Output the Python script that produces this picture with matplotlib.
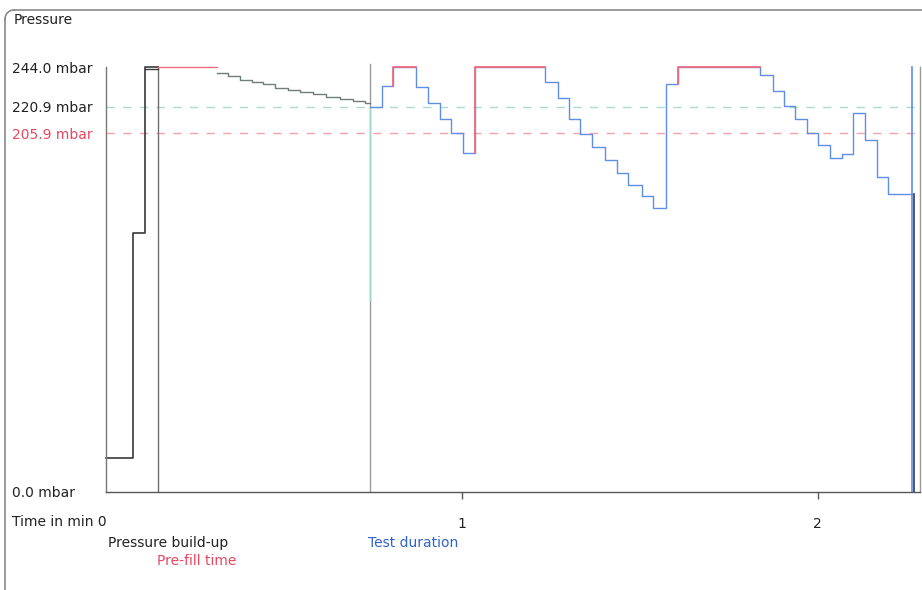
import numpy as np
import matplotlib
matplotlib.use("Agg")
import matplotlib.pyplot as plt
from matplotlib.lines import Line2D

W, H = 922, 590

# pressure build-up (black), time in min / pressure in mbar
build_t = [0.0, 0.076, 0.110, 0.146]
build_p = [19.5, 148.7, 244.0, 244.0]

# pre-fill time: red hold then slowly falling steps
prefill_t = [0.146, 0.312]
prefill_p = [244.0, 244.0]
settle_t = [0.312, 0.343, 0.376, 0.410, 0.441, 0.475, 0.511, 0.545, 0.581,
            0.618, 0.657, 0.694, 0.728, 0.742]
settle_p = [240.7, 238.8, 236.5, 235.4, 234.0, 232.0, 230.8, 229.5, 228.3,
            227.0, 225.8, 224.5, 223.1, 223.1]

# test duration (blue steps, red where at max pressure)
test_t = [0.742, 0.775, 0.806, 0.871, 0.904, 0.938, 0.969, 1.003, 1.037,
          1.233, 1.270, 1.301, 1.331, 1.365, 1.402, 1.435, 1.466, 1.506,
          1.537, 1.573, 1.607, 1.837, 1.874, 1.904, 1.935, 1.969, 2.000,
          2.034, 2.067, 2.098, 2.132, 2.166, 2.197, 2.264]
test_p = [221.0, 233.1, 244.0, 232.7, 223.3, 214.1, 206.1, 194.6, 244.0,
          235.4, 226.2, 214.1, 205.5, 198.0, 190.6, 183.1, 176.2, 169.9,
          163.0, 234.2, 244.0, 239.4, 230.2, 221.6, 214.1, 206.1, 199.2,
          191.7, 194.0, 217.6, 202.1, 180.8, 171.1, 171.1]

p_max = 244.0
p_upper = 220.9
p_lower = 205.9
t_end = 2.264
t_axis_end = 2.287

xticks = [1, 2]
xtick_labels = ["1", "2"]

BLACK = "#3a3a3a"
RED = "#f06b7c"
BLUE = "#5f8ee6"

fig = plt.figure(figsize=(W / 100, H / 100), dpi=100)
fig.patch.set_facecolor("white")


def fx(x):
    return x / W


def fy(y):
    return 1 - y / H


# axes: pixel x 106..920 -> 0..t_axis_end ; pixel y 492 -> 0, 67 -> 244
x0, x1 = 106, 920
y0, y244 = 492, 67
ytop = 55
ax = fig.add_axes([fx(x0), fy(y0), (x1 - x0) / W, (y0 - ytop) / H])
ax.set_xlim(0, t_axis_end)
ax.set_ylim(0, p_max * (y0 - ytop) / (y0 - y244))

for s in ["top", "right"]:
    ax.spines[s].set_visible(False)
ax.spines["left"].set_bounds(0, p_max)
ax.spines["left"].set_color("#777777")
ax.spines["bottom"].set_color("#555555")
ax.spines["left"].set_linewidth(1.0)
ax.spines["bottom"].set_linewidth(1.0)
ax.set_yticks([])
ax.set_xticks(xticks)
ax.set_xticklabels(xtick_labels, fontsize=10, color="#222222")
ax.tick_params(axis="x", direction="out", length=5, width=1, pad=13,
               color="#555555")

# limit lines
ax.axhline(p_upper, color="#a9dccf", lw=1.0, ls=(0, (6, 6)))
ax.axhline(p_lower, color="#f3a3ad", lw=1.0, ls=(0, (6, 6)))

# phase marker lines
ax.plot([build_t[-1], build_t[-1]], [0, p_max], color="#6e6e6e", lw=1.0)
ax.plot([settle_t[-1], settle_t[-1]], [0, p_max + 1.5], color="#9a9a9a", lw=1.0)
ax.plot([settle_t[-1], settle_t[-1]], [110, p_upper], color="#9fd6cf", lw=1.0)
ax.plot([t_axis_end, t_axis_end], [0, p_max], color="#9a9a9a", lw=1.0, clip_on=False)

# curves
ax.step(build_t, build_p, where="post", color=BLACK, lw=1.2, clip_on=False)
ax.plot([build_t[2], build_t[3]], [p_max - 1.2, p_max - 1.2], color=BLACK, lw=1.0)
ax.step(prefill_t, prefill_p, where="post", color=RED, lw=1.0, clip_on=False)
ax.step(settle_t, settle_p, where="post", color="#6f7f78", lw=1.0)
ax.step(test_t, test_p, where="post", color=BLUE, lw=1.0, clip_on=False)

# red where pressure is at maximum
tt = np.array(test_t)
pp = np.array(test_p)
for i in range(len(tt) - 1):
    if pp[i] == p_max:
        ax.plot([tt[i], tt[i], tt[i + 1]], [pp[i - 1], p_max, p_max],
                color=RED, lw=1.3, clip_on=False, zorder=4)

# end of test
ax.plot([t_end, t_end], [0, p_max], color=BLUE, lw=1.2, clip_on=False)
ax.plot([t_end + 0.006, t_end + 0.006], [0, test_p[-1]], color=BLACK, lw=1.2)

# texts
fs = 10
fig.text(fx(14), fy(20), "Pressure", fontsize=fs, va="center", color="#222222")
fig.text(fx(12), fy(69), "244.0 mbar", fontsize=fs, va="center", color="#222222")
fig.text(fx(12), fy(108), "220.9 mbar", fontsize=fs, va="center", color="#222222")
fig.text(fx(12), fy(135), "205.9 mbar", fontsize=fs, va="center", color="#e8485e")
fig.text(fx(12), fy(493), "0.0 mbar", fontsize=fs, va="center", color="#222222")
fig.text(fx(12), fy(522), "Time in min 0", fontsize=fs, va="center", color="#222222")
fig.text(fx(108), fy(543), "Pressure build-up", fontsize=fs, va="center", color="#222222")
fig.text(fx(157), fy(561), "Pre-fill time", fontsize=fs, va="center", color="#e8485e")
fig.text(fx(368), fy(543), "Test duration", fontsize=fs, va="center", color="#2e62cc")

# window frame
fig.add_artist(Line2D([fx(14), fx(922)], [fy(10), fy(10)], color="#8a8a8a", lw=1.2))
fig.add_artist(Line2D([fx(5), fx(5)], [fy(19), fy(590)], color="#8a8a8a", lw=1.2))
ang = np.linspace(np.pi / 2, np.pi, 10)
fig.add_artist(Line2D(fx(14 + 9 * np.cos(ang)), fy(19 - 9 * np.sin(ang)),
                      color="#8a8a8a", lw=1.2))

fig.savefig("out.png", dpi=100)
